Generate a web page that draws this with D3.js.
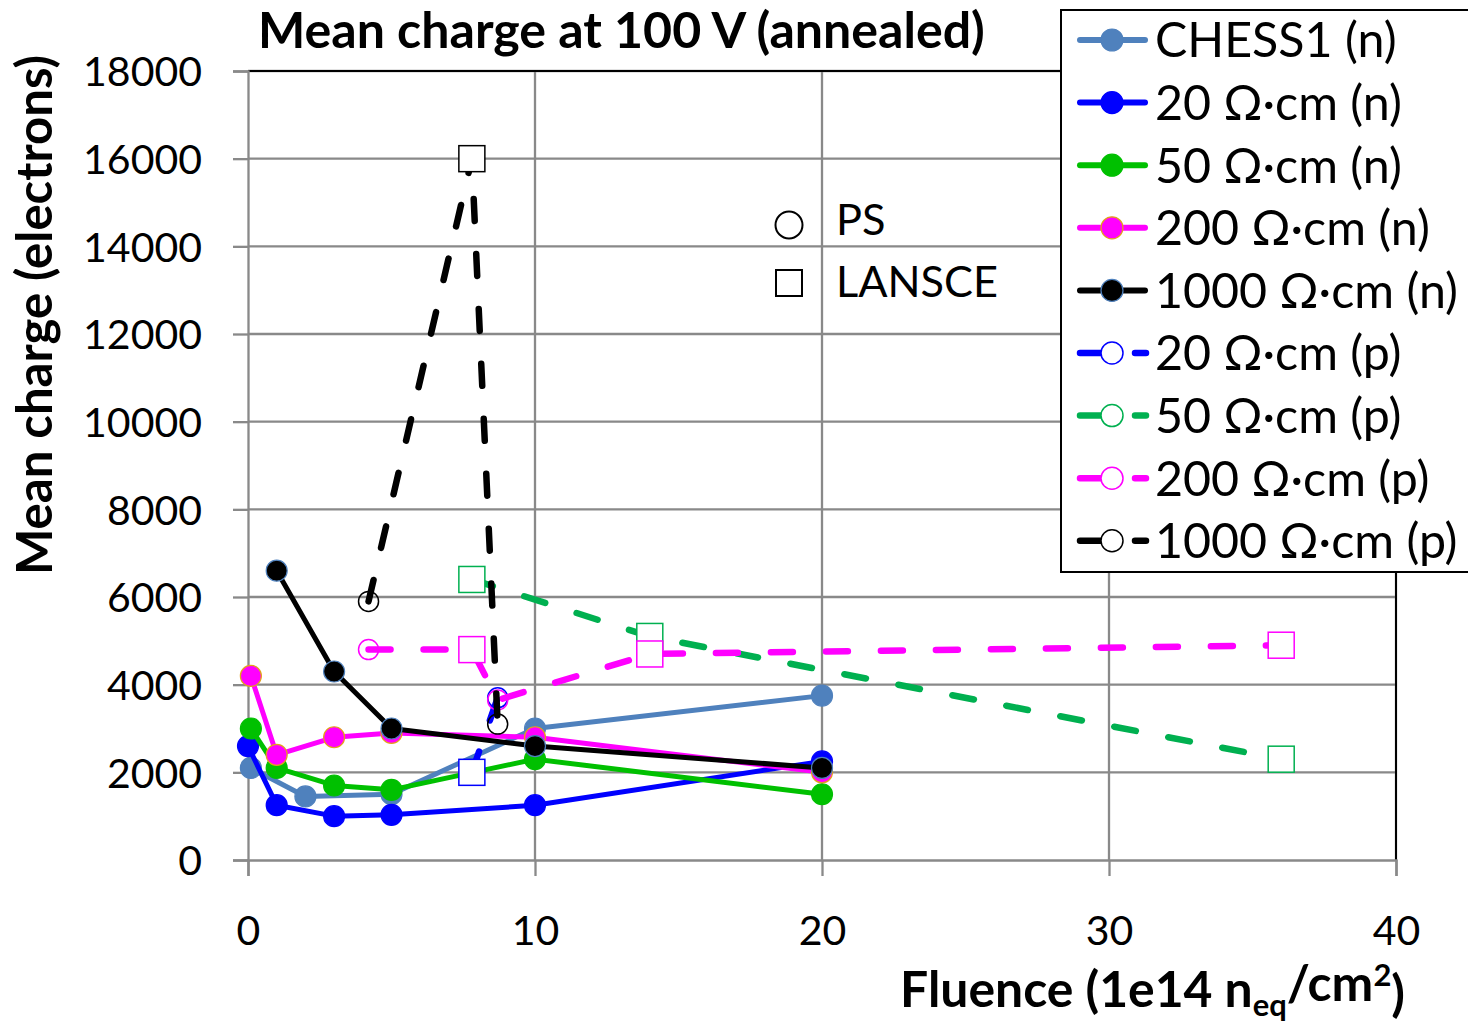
<!DOCTYPE html>
<html>
<head>
<meta charset="utf-8">
<script src="https://cdn.jsdelivr.net/npm/d3@7"></script>
<style>
  html, body { margin: 0; padding: 0; background: #fff; }
  svg { display: block; font-family: Lato, "Open Sans", "DejaVu Sans", sans-serif; }
</style>
</head>
<body>
<svg id="chart" width="1468" height="1030"></svg>
<script>
// ---------- data ----------
const xTickValues = [0, 10, 20, 30, 40];
const yTickValues = [0, 2000, 4000, 6000, 8000, 10000, 12000, 14000, 16000, 18000];

const seriesNames = ["CHESS1 (n)", "20 Ω·cm (n)", "50 Ω·cm (n)", "200 Ω·cm (n)", "1000 Ω·cm (n)",
                     "20 Ω·cm (p)", "50 Ω·cm (p)", "200 Ω·cm (p)", "1000 Ω·cm (p)"];
const seriesColors = ["#4F81BD", "#0000FF", "#00C000", "#FF00FF", "#000000",
                      "#0000FF", "#00B050", "#FF00FF", "#000000"];

// n-type (solid lines, filled markers)
const chess1N_x = [0.1, 2, 5, 10, 20];
const chess1N_y = [2100, 1450, 1500, 3000, 3750];
const ohm20N_x = [0, 1, 3, 5, 10, 20];
const ohm20N_y = [2600, 1250, 1000, 1030, 1250, 2250];
const ohm50N_x = [0.1, 1, 3, 5, 10, 20];
const ohm50N_y = [3000, 2100, 1700, 1600, 2300, 1500];
const ohm200N_x = [0.1, 1, 3, 5, 10, 20];
const ohm200N_y = [4200, 2400, 2800, 2900, 2800, 2000];
const ohm1000N_x = [1, 3, 5, 10, 20];
const ohm1000N_y = [6600, 4300, 3000, 2600, 2100];

// p-type (dashed lines, open markers: PS = circle, LANSCE = square)
const ohm20P_x = [7.8, 8.7];
const ohm20P_y = [2000, 3700];
const ohm20P_src = ["LANSCE", "PS"];
const ohm50P_x = [7.8, 14, 36];
const ohm50P_y = [6400, 5100, 2300];
const ohm50P_src = ["LANSCE", "LANSCE", "LANSCE"];
const ohm200P_x = [4.2, 7.8, 8.7, 14, 36];
const ohm200P_y = [4800, 4800, 3650, 4700, 4900];
const ohm200P_src = ["PS", "LANSCE", "PS", "LANSCE", "LANSCE"];
const ohm1000P_x = [4.2, 7.8, 8.7];
const ohm1000P_y = [5900, 16000, 3100];
const ohm1000P_src = ["PS", "LANSCE", "PS"];

const markerStrokes = ["#4F81BD", "#0000FF", "#00C000", "#E3A21A", "#4F81BD"];

const zip = (xs, ys, src) => xs.map((x, i) => ({x, y: ys[i], src: src ? src[i] : null}));
const series = [
  {pts: zip(chess1N_x, chess1N_y), type: "n"},
  {pts: zip(ohm20N_x, ohm20N_y), type: "n"},
  {pts: zip(ohm50N_x, ohm50N_y), type: "n"},
  {pts: zip(ohm200N_x, ohm200N_y), type: "n"},
  {pts: zip(ohm1000N_x, ohm1000N_y), type: "n"},
  {pts: zip(ohm20P_x, ohm20P_y, ohm20P_src), type: "p"},
  {pts: zip(ohm50P_x, ohm50P_y, ohm50P_src), type: "p"},
  {pts: zip(ohm200P_x, ohm200P_y, ohm200P_src), type: "p"},
  {pts: zip(ohm1000P_x, ohm1000P_y, ohm1000P_src), type: "p"}
].map((s, i) => Object.assign(s, {name: seriesNames[i], color: seriesColors[i], mstroke: markerStrokes[i]}));

// ---------- layout ----------
const svg = d3.select("#chart");
const L = 248, R = 1396, T = 71, B = 860;
const x = d3.scaleLinear().domain([0, 40]).range([L, R]);
const y = d3.scaleLinear().domain([0, 18000]).range([B, T]);
const gridColor = "#898989";

function fitWidth(sel, w) {
  const fs = parseFloat(sel.attr("font-size"));
  const len = sel.node().getComputedTextLength();
  sel.attr("font-size", fs * w / len);
  return fs * w / len;
}

// gridlines
const grid = svg.append("g");
grid.selectAll("line.h").data(yTickValues.filter(d => d > 0)).join("line")
  .attr("x1", L).attr("x2", R).attr("y1", d => y(d)).attr("y2", d => y(d))
  .attr("stroke", gridColor).attr("stroke-width", 2.3);
grid.selectAll("line.v").data(xTickValues.filter(d => d > 0)).join("line")
  .attr("x1", d => x(d)).attr("x2", d => x(d)).attr("y1", T).attr("y2", B)
  .attr("stroke", gridColor).attr("stroke-width", 2.3);

// plot border (top/right black)
svg.append("path").attr("d", `M${L},${T}H${R}V${B}`).attr("fill", "none")
  .attr("stroke", "#000").attr("stroke-width", 2);

// axes
const yAxis = d3.axisLeft(y).tickValues(yTickValues).tickSize(15).tickPadding(31).tickFormat(d3.format("d"));
const gy = svg.append("g").attr("transform", `translate(${L},0)`).call(yAxis);
const xAxis = d3.axisBottom(x).tickValues(xTickValues).tickSize(16).tickPadding(40).tickFormat(d3.format("d"));
const gx = svg.append("g").attr("transform", `translate(0,${B})`).call(xAxis);
[gx, gy].forEach(g => {
  g.select(".domain").attr("stroke", gridColor).attr("stroke-width", 2.3);
  g.selectAll(".tick line").attr("stroke", gridColor).attr("stroke-width", 2.3);
  g.selectAll(".tick text").attr("fill", "#000").attr("font-family", "Lato, sans-serif").attr("font-size", 41);
});
gy.selectAll(".tick text").attr("dy", "0.36em");
gx.selectAll(".tick text").attr("dy", "0.71em");

// series
const line = d3.line().x(d => x(d.x)).y(d => y(d.y));
series.forEach(s => {
  const g = svg.append("g");
  const path = g.append("path").attr("d", line(s.pts)).attr("fill", "none")
    .attr("stroke", s.color).attr("stroke-linejoin", "round");
  if (s.type === "n") {
    path.attr("stroke-width", 5);
    g.selectAll("circle").data(s.pts).join("circle")
      .attr("cx", d => x(d.x)).attr("cy", d => y(d.y)).attr("r", 10.5)
      .attr("fill", s.color).attr("stroke", s.mstroke).attr("stroke-width", 1.2);
  } else {
    path.attr("stroke-width", 6.5).attr("stroke-dasharray", "22 33").attr("stroke-linecap", "round");
    g.selectAll("circle").data(s.pts.filter(d => d.src === "PS")).join("circle")
      .attr("cx", d => x(d.x)).attr("cy", d => y(d.y)).attr("r", 10)
      .attr("fill", "none").attr("stroke", s.color).attr("stroke-width", 1.5);
    g.selectAll("rect").data(s.pts.filter(d => d.src === "LANSCE")).join("rect")
      .attr("x", d => x(d.x) - 13).attr("y", d => y(d.y) - 13).attr("width", 26).attr("height", 26)
      .attr("fill", "#fff").attr("stroke", s.color).attr("stroke-width", 1.5);
  }
});

// PS / LANSCE key
svg.append("circle").attr("cx", 789).attr("cy", 225).attr("r", 13.5)
  .attr("fill", "#fff").attr("stroke", "#000").attr("stroke-width", 2);
svg.append("rect").attr("x", 776).attr("y", 270).attr("width", 26).attr("height", 26)
  .attr("fill", "#fff").attr("stroke", "#000").attr("stroke-width", 2);
const ps = svg.append("text").attr("x", 836).attr("y", 219).attr("dy", "0.36em").attr("font-size", 44).text("PS");
const lans = svg.append("text").attr("x", 836).attr("y", 281).attr("dy", "0.36em").attr("font-size", 44).text("LANSCE");
const keyFs = fitWidth(lans, 162);
ps.attr("font-size", keyFs);

// title
const title = svg.append("text").attr("x", 258).attr("y", 48).attr("font-weight", "bold")
  .attr("font-size", 44).text("Mean charge at 100 V (annealed)");
fitWidth(title, 727);

// y axis title
const yt = svg.append("text").attr("transform", "translate(52,575) rotate(-90)")
  .attr("font-weight", "bold").attr("font-size", 46).text("Mean charge (electrons)");
fitWidth(yt, 520);

// x axis title
const xt = svg.append("text").attr("x", 1405).attr("y", 1007).attr("text-anchor", "end")
  .attr("font-weight", "bold").attr("font-size", 44);
xt.append("tspan").text("Fluence (1e14 n");
xt.append("tspan").attr("font-size", "62%").attr("dy", "0.3em").text("eq");
xt.append("tspan").attr("dy", "-0.3em").text("/cm");
xt.append("tspan").attr("font-size", "62%").attr("dy", "-0.5em").text("2");
xt.append("tspan").attr("dy", "0.5em").text(")");
fitWidth(xt, 505);

// legend
const lg = svg.append("g");
lg.append("rect").attr("x", 1061).attr("y", 10).attr("width", 420).attr("height", 562)
  .attr("fill", "#fff").attr("stroke", "#000").attr("stroke-width", 2);
const legY0 = 40, legStep = 62.6;
const items = lg.selectAll("g.item").data(series).join("g")
  .attr("transform", (d, i) => `translate(0,${legY0 + i * legStep})`);
items.each(function(s) {
  const g = d3.select(this);
  if (s.type === "n") {
    g.append("line").attr("x1", 1080).attr("x2", 1145).attr("y1", 0).attr("y2", 0)
      .attr("stroke", s.color).attr("stroke-width", 6).attr("stroke-linecap", "round");
    g.append("circle").attr("cx", 1112).attr("cy", 0).attr("r", 11)
      .attr("fill", s.color).attr("stroke", s.mstroke).attr("stroke-width", 1.2);
  } else {
    g.append("line").attr("x1", 1080).attr("x2", 1146).attr("y1", 0).attr("y2", 0)
      .attr("stroke", s.color).attr("stroke-width", 6.5).attr("stroke-linecap", "round")
      .attr("stroke-dasharray", "24 31");
    g.append("circle").attr("cx", 1112).attr("cy", 0).attr("r", 11)
      .attr("fill", "#fff").attr("stroke", s.color).attr("stroke-width", 1.5);
  }
  g.append("text").attr("class", "lt").attr("x", 1155).attr("y", 0).attr("dy", "0.36em")
    .attr("font-size", 46).text(s.name);
});
const longest = lg.selectAll("text.lt").filter(d => d.name === "1000 Ω·cm (n)");
const lfs = fitWidth(longest, 303);
lg.selectAll("text.lt").attr("font-size", lfs);
</script>
</body>
</html>
